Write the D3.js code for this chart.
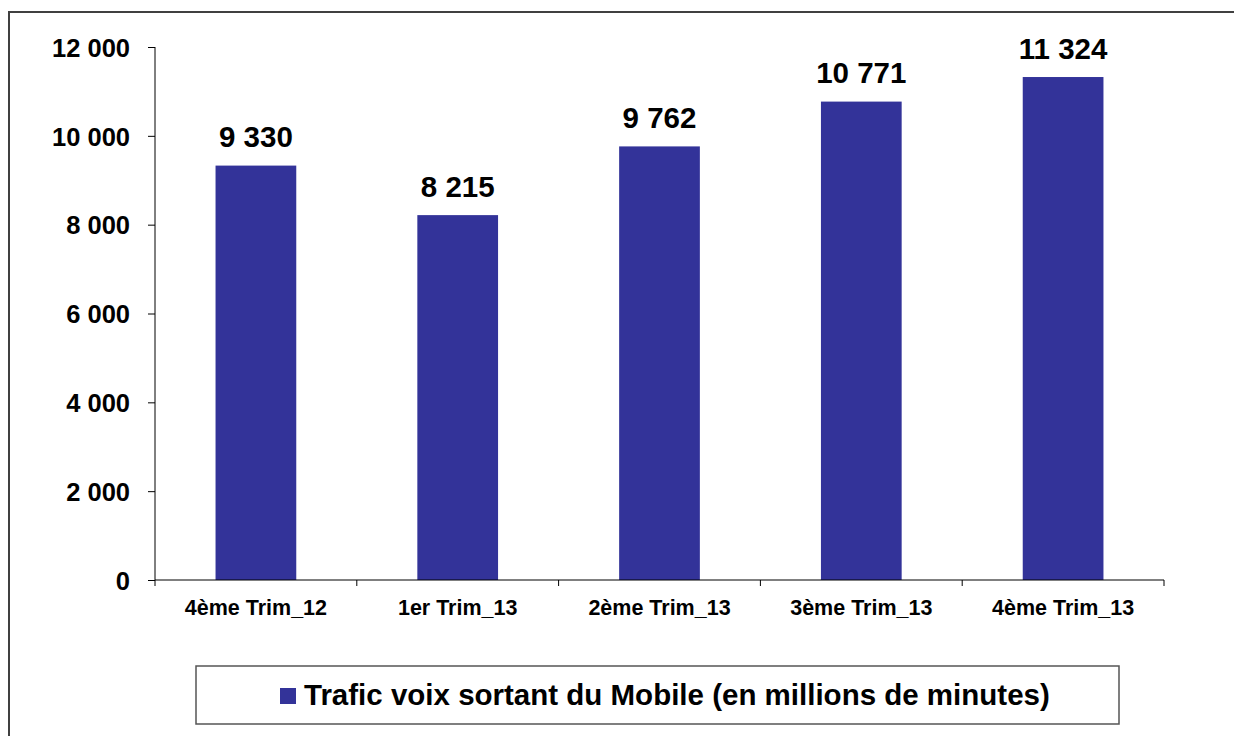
<!DOCTYPE html>
<html><head><meta charset="utf-8">
<script src="https://cdn.jsdelivr.net/npm/d3@7"></script>
<style>body{margin:0;background:#fff}svg{display:block;font-family:Arial,"Liberation Sans",sans-serif}</style>
</head><body><svg id="c" width="1234" height="736"></svg>
<script>
const categories = ["4ème Trim_12","1er Trim_13","2ème Trim_13","3ème Trim_13","4ème Trim_13"];
const values = [9330, 8215, 9762, 10771, 11324];
const yTicks = [0,2000,4000,6000,8000,10000,12000];
const seriesName = "Trafic voix sortant du Mobile (en millions de minutes)";
const color = "#333399";

(function(){
const svg = d3.select("#c");
const fmt = v => d3.format(",")(v).replace(/,/g, " ");

svg.append("rect").attr("x",9).attr("y",12).attr("width",1240).attr("height",740)
  .attr("fill","none").attr("stroke","#404040").attr("stroke-width",2);

const pLeft=155, pRight=1164, pTop=47, pBottom=580;
const x = d3.scaleBand().domain(categories).range([pLeft,pRight]).paddingInner(0.6).paddingOuter(0.3);
const y = d3.scaleLinear().domain([0,12000]).range([pBottom,pTop]);

svg.selectAll("rect.bar").data(values).join("rect").attr("class","bar")
  .attr("x",(d,i)=>x(categories[i])).attr("width",x.bandwidth())
  .attr("y",d=>y(d)).attr("height",d=>pBottom-y(d)).attr("fill",color);

svg.selectAll("text.val").data(values).join("text").attr("class","val")
  .attr("x",(d,i)=>x(categories[i])+x.bandwidth()/2).attr("y",d=>y(d)-18.5)
  .attr("text-anchor","middle").attr("font-weight","bold").attr("font-size",29.5).text(fmt);

const yAxis = svg.append("g").attr("transform",`translate(${pLeft},0)`)
  .call(d3.axisLeft(y).tickValues(yTicks).tickFormat(fmt).tickSize(7).tickPadding(18));
yAxis.select(".domain").attr("stroke","#000").attr("d",`M0,${pTop}V${pBottom}`);
yAxis.selectAll("text").attr("font-size",25.5).attr("font-weight","bold").attr("fill","#000")
  .attr("dy","0.36em").attr("font-family","Arial, 'Liberation Sans', sans-serif");

const xg = svg.append("g");
xg.append("line").attr("x1",pLeft).attr("x2",pRight).attr("y1",pBottom).attr("y2",pBottom).attr("stroke","#000");
const bounds = d3.range(categories.length+1).map(i => pLeft + i*(pRight-pLeft)/categories.length);
xg.selectAll("line.t").data(bounds).join("line").attr("class","t")
  .attr("x1",d=>d).attr("x2",d=>d).attr("y1",pBottom).attr("y2",pBottom+6).attr("stroke","#000");
xg.selectAll("text").data(categories).join("text")
  .attr("x",d=>x(d)+x.bandwidth()/2).attr("y",615).attr("text-anchor","middle")
  .attr("font-weight","bold").attr("font-size",21.5).text(d=>d);

svg.append("rect").attr("x",196).attr("y",666).attr("width",923).attr("height",58)
  .attr("fill","#fff").attr("stroke","#555").attr("stroke-width",1.5);
svg.append("rect").attr("x",280).attr("y",688).attr("width",16).attr("height",16).attr("fill",color);
svg.append("text").attr("x",304).attr("y",705).attr("font-weight","bold").attr("font-size",29.5).text(seriesName);
})();
</script></body></html>
